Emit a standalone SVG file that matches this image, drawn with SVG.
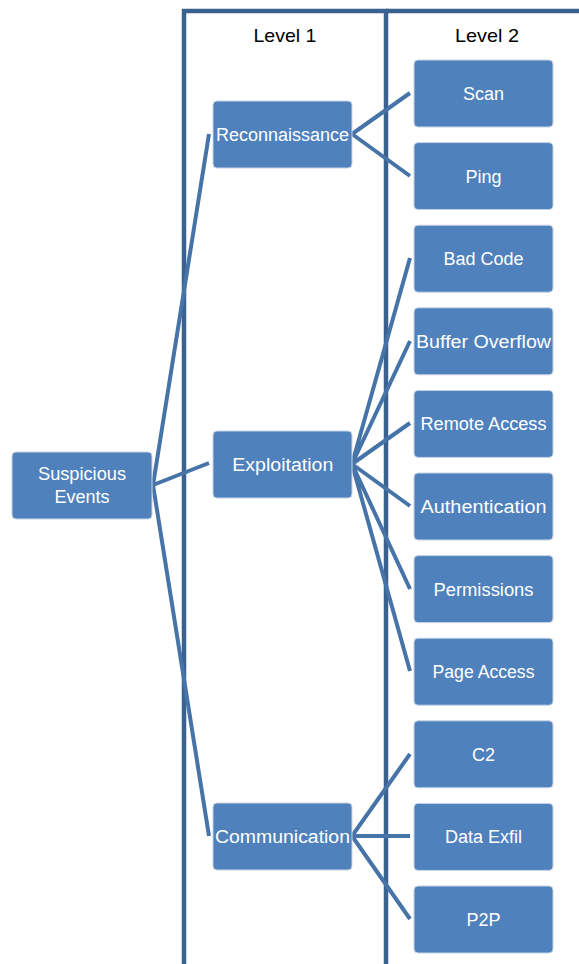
<svg xmlns="http://www.w3.org/2000/svg" width="579" height="964" viewBox="0 0 579 964">
<style>
.box{fill:#4f81bd;stroke:#c7d4e6;stroke-width:1}
.t{fill:#ffffff;font-family:"Liberation Sans",Arial,sans-serif;font-size:18px;text-anchor:middle}
.h{fill:#000000;font-family:"Liberation Sans",Arial,sans-serif;font-size:19px;text-anchor:middle}
.frame{fill:none;stroke:#3a6291;stroke-width:4.5}
.c{fill:none;stroke:#4673a8;stroke-width:4;stroke-linecap:butt}
</style>
<rect width="579" height="964" fill="#ffffff"/>
<g id="frame">
<path class="frame" d="M184,964 V11 H386 V964"/>
<path class="frame" d="M386,11 H579"/>
<text class="h" x="285" y="42" textLength="63" lengthAdjust="spacingAndGlyphs">Level 1</text>
<text class="h" x="487" y="42" textLength="64" lengthAdjust="spacingAndGlyphs">Level 2</text>
</g>
<g id="connectors">
<path class="c" d="M153,485 L209,134 M153,485 L209,463 M153,485 L209,836"/>
<path class="c" d="M352,134 L410,93 M352,134 L410,176"/>
<path class="c" d="M352,464 L410,258 M352,464 L410,341 M352,464 L410,423 M352,464 L410,506 M352,464 L410,589 M352,464 L410,671"/>
<path class="c" d="M352,836 L410,754 M352,836 L410,836 M352,836 L410,919"/>
</g>
<g id="suspicious"><rect class="box" x="12" y="452" width="140" height="67" rx="4"/><text class="t" x="82" y="480" textLength="88" lengthAdjust="spacingAndGlyphs">Suspicious</text><text class="t" x="82" y="503">Events</text></g>
<g id="recon"><rect class="box" x="213" y="101" width="139" height="67" rx="4"/><text class="t" x="282.5" y="141" textLength="133" lengthAdjust="spacingAndGlyphs">Reconnaissance</text></g>
<g id="exploit"><rect class="box" x="213" y="431" width="139" height="67" rx="4"/><text class="t" x="282.8" y="471" textLength="101" lengthAdjust="spacingAndGlyphs">Exploitation</text></g>
<g id="comm"><rect class="box" x="213" y="803" width="139" height="67" rx="4"/><text class="t" x="282.5" y="843" textLength="135" lengthAdjust="spacingAndGlyphs">Communication</text></g>
<g id="scan"><rect class="box" x="414" y="60" width="139" height="67" rx="4"/><text class="t" x="483.5" y="100">Scan</text></g>
<g id="ping"><rect class="box" x="414" y="142.6" width="139" height="67" rx="4"/><text class="t" x="483.5" y="182.6">Ping</text></g>
<g id="badcode"><rect class="box" x="414" y="225.2" width="139" height="67" rx="4"/><text class="t" x="483.5" y="265.2">Bad Code</text></g>
<g id="buffer"><rect class="box" x="414" y="307.8" width="139" height="67" rx="4"/><text class="t" x="483.5" y="347.8" textLength="135" lengthAdjust="spacingAndGlyphs">Buffer Overflow</text></g>
<g id="remote"><rect class="box" x="414" y="390.4" width="139" height="67" rx="4"/><text class="t" x="483.5" y="430.4" textLength="126" lengthAdjust="spacingAndGlyphs">Remote Access</text></g>
<g id="auth"><rect class="box" x="414" y="473" width="139" height="67" rx="4"/><text class="t" x="483.5" y="513" textLength="126" lengthAdjust="spacingAndGlyphs">Authentication</text></g>
<g id="perm"><rect class="box" x="414" y="555.6" width="139" height="67" rx="4"/><text class="t" x="483.5" y="595.6" textLength="100" lengthAdjust="spacingAndGlyphs">Permissions</text></g>
<g id="page"><rect class="box" x="414" y="638.2" width="139" height="67" rx="4"/><text class="t" x="483.5" y="678.2" textLength="102" lengthAdjust="spacingAndGlyphs">Page Access</text></g>
<g id="c2"><rect class="box" x="414" y="720.8" width="139" height="67" rx="4"/><text class="t" x="483.5" y="760.8">C2</text></g>
<g id="exfil"><rect class="box" x="414" y="803.4" width="139" height="67" rx="4"/><text class="t" x="483.5" y="843.4">Data Exfil</text></g>
<g id="p2p"><rect class="box" x="414" y="886" width="139" height="67" rx="4"/><text class="t" x="483.5" y="926">P2P</text></g>
</svg>
